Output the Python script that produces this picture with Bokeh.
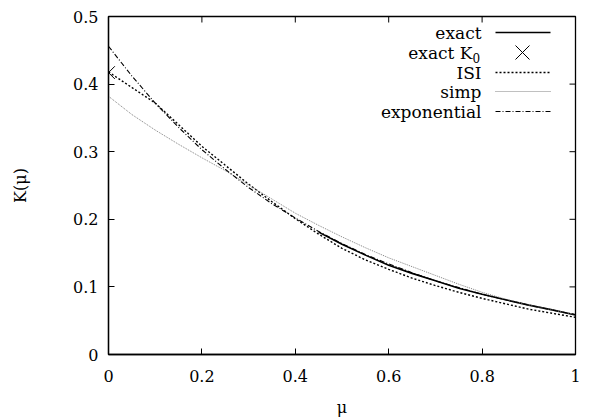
from bokeh.plotting import figure
from bokeh.models import Range1d, FixedTicker, Label, Arrow
from bokeh.embed import file_html
from bokeh.resources import INLINE

# ---- data ----
mu = [0.0, 0.05, 0.1, 0.15, 0.2, 0.25, 0.3, 0.35, 0.4, 0.45, 0.5,
      0.55, 0.6, 0.65, 0.7, 0.75, 0.8, 0.85, 0.9, 0.95, 1.0]
k_exponential = [0.456, 0.412, 0.372, 0.336, 0.303, 0.274, 0.247, 0.223, 0.202, 0.182, 0.164,
                 0.148, 0.134, 0.121, 0.109, 0.099, 0.089, 0.081, 0.073, 0.066, 0.059]
k_isi = [0.418, 0.395, 0.372, 0.340, 0.308, 0.280, 0.252, 0.226, 0.201, 0.178, 0.157,
         0.140, 0.126, 0.113, 0.102, 0.092, 0.083, 0.075, 0.067, 0.061, 0.055]
k_simp = [0.382, 0.355, 0.332, 0.311, 0.291, 0.272, 0.251, 0.230, 0.209, 0.191, 0.174,
          0.158, 0.143, 0.130, 0.117, 0.104, 0.092, 0.082, 0.073, 0.066, 0.059]
mu_exact = [0.45, 0.5, 0.55, 0.6, 0.65, 0.7, 0.75, 0.8, 0.85, 0.9, 0.95, 1.0]
k_exact = [0.181, 0.163, 0.147, 0.132, 0.120, 0.109, 0.098, 0.089, 0.081, 0.073, 0.066, 0.0585]
mu_k0 = [0.0]
k_k0 = [0.417]

x_ticks = [0, 0.2, 0.4, 0.6, 0.8, 1.0]
x_tick_labels = ["0", "0.2", "0.4", "0.6", "0.8", "1"]
y_ticks = [0, 0.1, 0.2, 0.3, 0.4, 0.5]
y_tick_labels = ["0", "0.1", "0.2", "0.3", "0.4", "0.5"]

legend_labels = ["exact", "exact K", "ISI", "simp", "exponential"]

FONT = "DejaVu Serif"
FS_TICK = "16px"
FS_LEG = "17px"

# frame geometry in page pixels
FL, FR, FT, FB = 108, 575, 16, 354
W, H = 592, 419

p = figure(width=W, height=H, x_range=Range1d(0, 1), y_range=Range1d(0, 0.5),
           output_backend="svg", toolbar_location=None,
           min_border_left=FL, min_border_right=W - FR, min_border_top=FT,
           min_border_bottom=H - FB)
p.xgrid.visible = False
p.ygrid.visible = False
p.outline_line_color = "black"
p.outline_line_width = 1.3
p.background_fill_color = "white"
p.border_fill_color = "white"


def style_axis(ax, ticks, labels):
    ax.ticker = FixedTicker(ticks=ticks)
    ax.major_label_overrides = {t: l for t, l in zip(ticks, labels)}
    ax.minor_tick_line_color = None
    ax.major_tick_in = 6
    ax.major_tick_out = 0
    ax.major_tick_line_color = "black"
    ax.major_tick_line_width = 1
    ax.axis_line_color = "black"
    ax.axis_line_width = 1.3
    ax.major_label_text_font = FONT
    ax.major_label_text_color = "black"
    ax.major_label_text_font_size = FS_TICK
    ax.axis_label_text_font = FONT
    ax.axis_label_text_font_style = "normal"
    ax.axis_label_text_font_size = FS_TICK
    ax.axis_label_text_color = "black"


style_axis(p.xaxis[0], x_ticks, x_tick_labels)
style_axis(p.yaxis[0], y_ticks, y_tick_labels)
p.xaxis[0].major_label_standoff = 15
p.yaxis[0].major_label_standoff = 10
p.xaxis[0].axis_label = "μ"
p.xaxis[0].axis_label_standoff = 13
p.yaxis[0].axis_label = "K(μ)"
p.yaxis[0].axis_label_standoff = 40


def fx(px):
    return (px - FL) / float(FR - FL)


def fy(py):
    return 0.5 * (FB - py) / float(FB - FT)


# inward ticks on the right and top edges (mirrors of the left / bottom ticks)
TL = 6
p.segment(x0=[1.0] * len(y_ticks), y0=y_ticks, x1=[1.0 - TL / (FR - FL)] * len(y_ticks),
          y1=y_ticks, line_color="black", line_width=1)
p.segment(x0=x_ticks, y0=[0.5] * len(x_ticks), x1=x_ticks,
          y1=[0.5 - 0.5 * TL / (FB - FT)] * len(x_ticks), line_color="black", line_width=1)

# ---- curves ----
p.line(mu_exact, k_exact, line_color="black", line_width=1.6)
p.line(mu, k_isi, line_color="black", line_width=1.4, line_dash="2 2")
p.line(mu, k_simp, line_color="#808080", line_width=1.0, line_dash="1 1")
p.line(mu, k_exponential, line_color="black", line_width=1.1, line_dash="5 2 1 2")
p.scatter(mu_k0, k_k0, marker="x", size=18, line_color="black", line_width=1.0)

# ---- legend (gnuplot style: text right-aligned, sample to the right) ----
rows_py = [32, 52, 72, 91, 111]
for lab, py in zip(legend_labels, rows_py):
    tx = fx(481) if lab != "exact K" else fx(472)
    p.add_layout(Label(x=tx, y=fy(py), text=lab, text_align="right", text_baseline="middle",
                       text_font=FONT, text_font_size=FS_LEG, text_color="black"))
p.add_layout(Label(x=fx(472), y=fy(rows_py[1] + 5), text="0", text_align="left",
                   text_baseline="middle", text_font=FONT, text_font_size="12px",
                   text_color="black"))

sx0, sx1 = fx(495), fx(550)
samples = [(rows_py[0], dict(line_color="black", line_width=1.6)),
           (rows_py[2], dict(line_color="black", line_width=1.4, line_dash="2 2")),
           (rows_py[3], dict(line_color="#808080", line_width=1.0, line_dash="1 1")),
           (rows_py[4], dict(line_color="black", line_width=1.1, line_dash="5 2 1 2"))]
for py, kw in samples:
    p.add_layout(Arrow(start=None, end=None, x_start=sx0, y_start=fy(py), x_end=sx1,
                       y_end=fy(py), **kw))
cx, cy = 522, rows_py[1]
for dx in (-7, 7):
    p.add_layout(Arrow(start=None, end=None, x_start=fx(cx - dx), y_start=fy(cy - 7),
                       x_end=fx(cx + dx), y_end=fy(cy + 7), line_color="black", line_width=1.0))

open("out.html", "w").write(file_html(p, INLINE))
